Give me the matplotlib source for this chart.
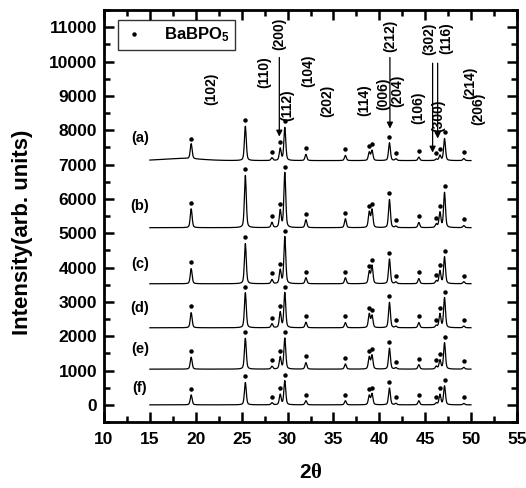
import numpy as np
import matplotlib
matplotlib.use("Agg")
import matplotlib.pyplot as plt

plt.rcParams['font.family'] = ['Liberation Sans', 'DejaVu Sans']
plt.rcParams['font.weight'] = 'bold'
plt.rcParams['mathtext.fontset'] = 'custom'
plt.rcParams['mathtext.rm'] = 'Liberation Sans:bold'
plt.rcParams['mathtext.bf'] = 'Liberation Sans:bold'
plt.rcParams['mathtext.it'] = 'Liberation Serif'

# ---- data ----
peak_pos = [19.5, 25.4, 28.3, 29.2, 29.7, 32.0, 36.3, 38.9, 39.2, 41.1, 41.8, 44.3, 46.2, 46.6, 47.1, 49.2]
sample_names = ['(a)', '(b)', '(c)', '(d)', '(e)', '(f)']
baselines = [7114, 5160, 3527, 2245, 1040, 0]
heights_a = [440, 1000, 80, 350, 960, 180, 150, 240, 290, 520, 50, 100, 40, 150, 640, 60]
heights_b = [550, 1520, 150, 500, 1600, 230, 260, 450, 520, 820, 40, 150, 100, 440, 1020, 60]
heights_c = [440, 1170, 120, 400, 1370, 175, 175, 350, 525, 720, 50, 150, 80, 370, 780, 60]
heights_d = [440, 1020, 115, 450, 1020, 160, 150, 400, 350, 740, 40, 150, 60, 400, 875, 50]
heights_e = [350, 900, 80, 350, 900, 190, 150, 350, 400, 610, 40, 130, 80, 260, 765, 50]
heights_f = [290, 650, 60, 300, 700, 120, 120, 270, 320, 490, 40, 120, 50, 300, 550, 40]
all_heights = [heights_a, heights_b, heights_c, heights_d, heights_e, heights_f]
hump_a = (18.5, 60, 3.0)  # amorphous background of (a): centre, height, width

label_x = [13.9, 13.9, 13.9, 13.9, 13.9, 13.9]
label_y = [7785, 5800, 4110, 2830, 1630, 500]

hkl_text = ['(102)', '(110)', '(200)', '(112)', '(104)', '(202)', '(114)', '(006)', '(204)',
            '(212)', '(106)', '(302)', '(300)', '(116)', '(214)', '(206)']
hkl_x = [21.7, 27.5, 29.1, 30.0, 32.2, 34.3, 38.4, 40.4, 41.9, 41.2, 44.2, 45.4, 46.4, 47.25, 49.9, 50.75]
hkl_y = [9213, 9680, 10816, 8717, 9738, 8863, 8863, 9067, 9155, 10758, 8660, 10670, 8425, 10670, 9388, 8630]

arrow_x = [29.1, 41.15, 45.8, 46.35]
arrow_top = [10117, 10117, 9950, 9950]
arrow_tip = [7813, 8047, 7347, 7755]

x = np.arange(15.0, 50.0, 0.02)


def profile(pos, hts, base, width=0.12):
    y = np.full_like(x, float(base))
    for p, h in zip(pos, hts):
        lor = 1.0 / (1.0 + ((x - p) / width) ** 2)
        gau = np.exp(-np.log(2) * ((x - p) / width) ** 2)
        y += h * (0.4 * lor + 0.6 * gau)
    return y


fig = plt.figure(figsize=(5.26, 4.88), dpi=100)
ax = fig.add_axes([0.1977, 0.1352, 0.7853, 0.8443])

for i, (hts, base) in enumerate(zip(all_heights, baselines)):
    y = profile(peak_pos, hts, base)
    if i == 0:
        c, h, w = hump_a
        y += h * np.exp(-((x - c) / w) ** 2)
    ax.plot(x, y, color='black', lw=0.9)
    dot_y = [base + hh + 180 for hh in hts]
    ax.plot(peak_pos, dot_y, ls='none', marker='o', ms=2.2, color='black',
            label='BaBPO$_\\mathrm{5}$' if i == 0 else None)
    ax.text(label_x[i], label_y[i], sample_names[i], fontsize=10.5, fontweight='bold',
            ha='center', va='center')

for t, hx, hy in zip(hkl_text, hkl_x, hkl_y):
    ax.text(hx, hy, t, rotation=90, fontsize=10, fontweight='bold', ha='center', va='center')

for ax_, top, tip in zip(arrow_x, arrow_top, arrow_tip):
    ax.annotate('', xy=(ax_, tip), xytext=(ax_, top),
                arrowprops=dict(arrowstyle='-|>', color='black', lw=0.9,
                                mutation_scale=9, shrinkA=0, shrinkB=0))

ax.set_xlim(10, 55)
ax.set_ylim(-500, 11500)
ax.set_xticks(np.arange(10, 56, 5))
ax.set_xticks(np.arange(12.5, 55, 5), minor=True)
ax.set_yticks(np.arange(0, 11001, 1000))
ax.set_yticks(np.arange(-500, 11501, 500), minor=True)
ax.tick_params(which='both', direction='in', top=True, right=True, width=1.8)
ax.tick_params(which='major', length=7, labelsize=12.5)
ax.tick_params(axis='x', which='major', pad=7)
ax.tick_params(axis='y', which='major', pad=5)
ax.tick_params(which='minor', length=4)
for s in ax.spines.values():
    s.set_linewidth(2)
for lab in ax.get_xticklabels() + ax.get_yticklabels():
    lab.set_fontweight('bold')

ax.set_ylabel('Intensity(arb. units)', fontsize=16, fontweight='bold')
ax.yaxis.set_label_coords(-0.172, 0.461)
ax.set_xlabel('2$\\theta$', fontsize=15, fontweight='bold')
ax.xaxis.set_label_coords(0.5, -0.1)

leg = ax.legend(loc='upper left', bbox_to_anchor=(0.034, 0.976), borderaxespad=0,
                fancybox=False, edgecolor='black', fontsize=12, handlelength=1.2,
                handletextpad=1.2, borderpad=0.35, markerscale=1.0)
leg.get_frame().set_linewidth(1.0)
for t in leg.get_texts():
    t.set_fontweight('bold')

fig.savefig('out.png', dpi=100)
